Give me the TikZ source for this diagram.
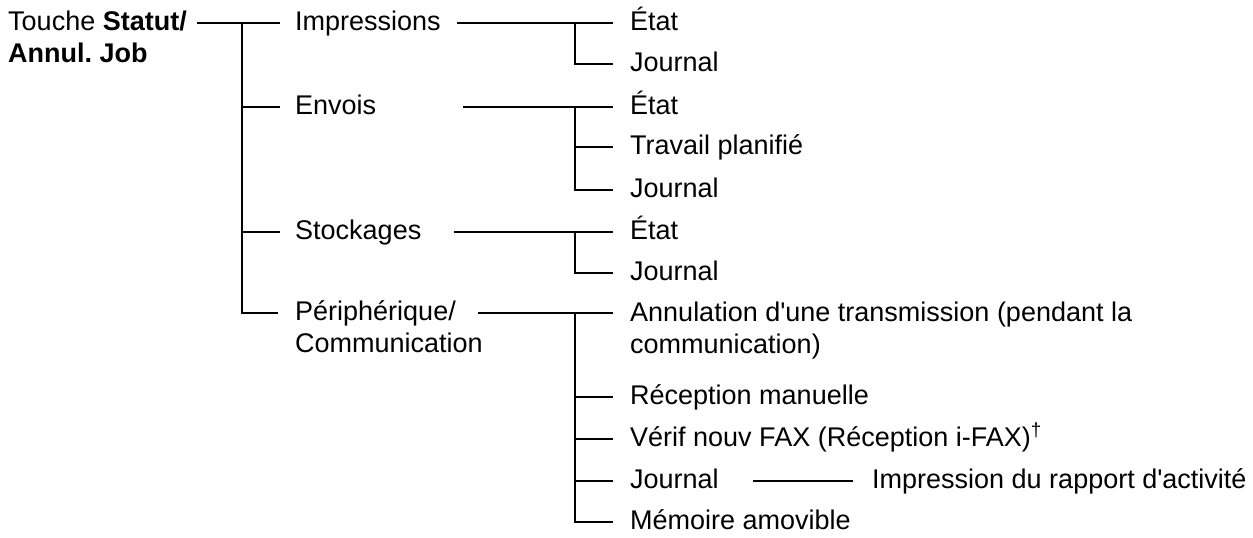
\documentclass[tikz,border=0pt]{standalone}
\usepackage{fontspec}
\setmainfont{Liberation Sans}[Ligatures=TeXOff]
\frenchspacing
\begin{document}
\begin{tikzpicture}[x=1pt,y=-1pt,
  lbl/.style={inner sep=0pt, anchor=west, text height=19pt, text depth=5pt, font=\fontsize{27}{32}\selectfont},
  mlbl/.style={inner sep=0pt, anchor=base west, align=left, font=\fontsize{27}{32}\selectfont},
  ln/.style={line width=1.6pt}]
\useasboundingbox (0,0) rectangle (1253,538);
% nodes (multi-line nodes are placed by the baseline of their last line)
\node[mlbl] (root) at (8,62) {Touche \textbf{Statut/}\\\textbf{Annul. Job}};
\node[lbl] (imp) at (295,23) {Impressions};
\node[lbl] (env) at (295,107) {Envois};
\node[lbl] (sto) at (295,232) {Stockages};
\node[mlbl] (per) at (295,352) {Périphérique/\\Communication};
\node[lbl] (e1) at (630,23) {État};
\node[lbl] (j1) at (630,64) {Journal};
\node[lbl] (e2) at (630,107) {État};
\node[lbl] (tp) at (630,147) {Travail planifié};
\node[lbl] (j2) at (630,190) {Journal};
\node[lbl] (e3) at (630,232) {État};
\node[lbl] (j3) at (630,273) {Journal};
\node[mlbl] (an) at (630,353) {Annulation d'une transmission (pendant la\\communication)};
\node[lbl] (rm) at (630,397) {Réception manuelle};
\node[lbl] (vf) at (630,439) {Vérif nouv FAX (Réception i-FAX)\textsuperscript{†}};
\node[lbl] (jn) at (630,481) {Journal};
\node[lbl] (ma) at (630,522) {Mémoire amovible};
\node[lbl] (ira) at (872,481) {Impression du rapport d'activité};
% junction coordinates
\coordinate (r0) at (197,23);
\coordinate (t0) at (242,23);
\coordinate (pe) at (278,313);
\coordinate (a1) at (457,23);
\coordinate (s1) at (575,23);
\coordinate (a2) at (463,107);
\coordinate (s2) at (575,107);
\coordinate (a3) at (454,232);
\coordinate (s3) at (575,232);
\coordinate (a4) at (478,313);
\coordinate (s4) at (575,313);
\coordinate (ae) at (613,313);
\coordinate (jl) at (753,481);
% connectors
\draw[ln] (r0) -- ([xshift=-15]imp.west);
\draw[ln] (t0) |- ([xshift=-15]env.west);
\draw[ln] (t0) |- ([xshift=-15]sto.west);
\draw[ln] (t0) |- (pe);
\draw[ln] (a1) -- ([xshift=-17]e1.west);
\draw[ln] (s1) |- ([xshift=-17]j1.west);
\draw[ln] (a2) -- ([xshift=-17]e2.west);
\draw[ln] (s2) |- ([xshift=-17]tp.west);
\draw[ln] (s2) |- ([xshift=-17]j2.west);
\draw[ln] (a3) -- ([xshift=-17]e3.west);
\draw[ln] (s3) |- ([xshift=-17]j3.west);
\draw[ln] (a4) -- (ae);
\draw[ln] (s4) |- ([xshift=-17]rm.west);
\draw[ln] (s4) |- ([xshift=-17]vf.west);
\draw[ln] (s4) |- ([xshift=-17]jn.west);
\draw[ln] (s4) |- ([xshift=-17]ma.west);
\draw[ln] (jl) -- ([xshift=-19]ira.west);
\end{tikzpicture}
\end{document}
